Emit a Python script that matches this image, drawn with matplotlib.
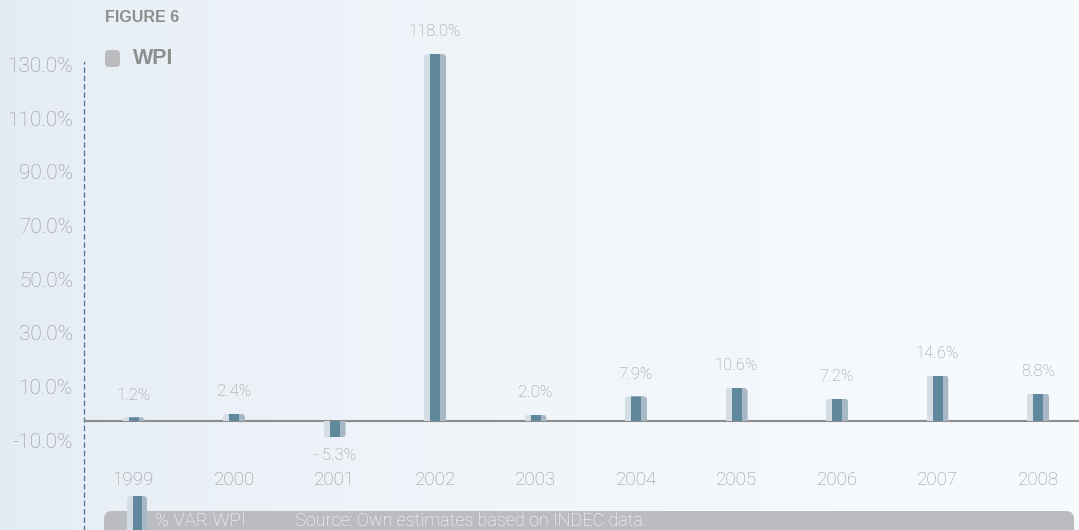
import matplotlib
matplotlib.use("Agg")
import matplotlib.pyplot as plt
import numpy as np
from matplotlib.patches import FancyBboxPatch, Rectangle

years = ["1999", "2000", "2001", "2002", "2003", "2004", "2005", "2006", "2007", "2008"]
wpi_var = [1.2, 2.4, -5.3, 118.0, 2.0, 7.9, 10.6, 7.2, 14.6, 8.8]
value_labels = ["1.2%", "2.4%", "- 5.3%", "118.0%", "2.0%", "7.9%", "10.6%", "7.2%", "14.6%", "8.8%"]
tick_values = [-10, 10, 30, 50, 70, 90, 110, 130]
tick_labels = ["-10.0%", "10.0%", "30.0%", "50.0%", "70.0%", "90.0%", "110.0%", "130.0%"]

W, H = 1079, 530
fam = ["Roboto", "DejaVu Sans"]
plt.rcParams['font.family'] = fam
TXT = "#969696"
WT = 'light'

fig = plt.figure(figsize=(W / 100, H / 100), dpi=100)

# background gradient
bg = fig.add_axes([0, 0, 1, 1], zorder=-10)
grad = np.linspace(0, 1, 256)[None, :]
c0 = np.array([0xe3, 0xeb, 0xf3]) / 255
c1 = np.array([0xf8, 0xfb, 0xfe]) / 255
img = c0[None, None, :] + (c1 - c0)[None, None, :] * (grad ** 0.6)[..., None]
bg.imshow(img, aspect='auto', extent=[0, 1, 0, 1])
bg.set_axis_off()

def px(x, y):
    return x / W, 1 - y / H

# main data axes
left_px, top_px = 84, 30
rect = [left_px / W, 0, 1 - left_px / W, (H - top_px) / H]
ax = fig.add_axes(rect, zorder=2)
ax.patch.set_alpha(0)
base_px, scale = 421, 3.11
ax.set_ylim(-(H - base_px) / scale, (base_px - top_px) / scale)
step, c0x = 100.5, 133.5
ax.set_xlim((left_px - c0x) / step, (W - c0x) / step)
for s in ax.spines.values():
    s.set_visible(False)
ax.set_xticks([])
ax.set_yticks([])

# tick axes (decorative scale)
ax2 = fig.add_axes(rect, zorder=1)
ax2.patch.set_alpha(0)
t0, tsc = 413.2, 2.682
ax2.set_ylim(-(H - t0) / tsc, (t0 - top_px) / tsc)
ax2.set_xlim(0, 1)
ax2.set_xticks([])
ax2.set_yticks(tick_values)
ax2.set_yticklabels(tick_labels, fontsize=15, color=TXT, fontweight=WT)
ax2.tick_params(axis='y', length=0, pad=8)
for k in ["top", "right", "bottom"]:
    ax2.spines[k].set_visible(False)
ax2.spines["left"].set_bounds(-(H - t0) / tsc, (t0 - 62) / tsc)
ax2.spines["left"].set_linestyle((0, (3, 3)))
ax2.spines["left"].set_color("#527f98")
ax2.spines["left"].set_linewidth(1.0)

# baseline
ax.axhline(0, color="#8c8c8c", lw=1.5, zorder=1)

x = np.arange(len(years))
bw = 22 / step
dw = 10 / step
light, dark, grey = "#d4dce4", "#5f889c", "#a8b8c4"
rx = 4 / step
ry = 4 / scale
for xi, v in zip(x, wpi_var):
    b1 = ax.bar(xi, v, width=bw, color=light, zorder=3)[0]
    b2 = ax.bar(xi + bw / 4, v, width=bw / 2, color=grey, zorder=3)[0]
    b3 = ax.bar(xi, v, width=dw, color=dark, zorder=4)[0]
    if v >= 0:
        y0, h = -3, v + 3
    else:
        y0, h = v, -v + 3
    clip = FancyBboxPatch((xi - bw / 2, y0), bw, h,
                          boxstyle=f"round,pad=0,rounding_size={rx}",
                          mutation_aspect=ry / rx, transform=ax.transData,
                          facecolor='none', edgecolor='none')
    for b in (b1, b2, b3):
        b.set_clip_path(clip)

for xi, v, lab in zip(x, wpi_var, value_labels):
    if v >= 0:
        ax.annotate(lab, (xi, v), xytext=(0, 16), textcoords='offset points',
                    ha='center', va='center', fontsize=12, color=TXT,
                    fontweight=WT, annotation_clip=False)
    else:
        ax.annotate(lab, (xi, v), xytext=(0, -13), textcoords='offset points',
                    ha='center', va='center', fontsize=12, color=TXT,
                    fontweight=WT, annotation_clip=False)

ytr = ax.get_xaxis_transform()
for xi, lab in zip(x, years):
    ax.text(xi, (H - 480) / (H - top_px), lab, transform=ytr, ha='center', va='center',
            fontsize=13.5, color=TXT, fontweight=WT)

# title and legend
fig.text(*px(105, 18), "FIGURE 6", fontsize=11.5, fontweight='bold', color="#8e8e8e",
         ha='left', va='center', family=["Liberation Sans", "DejaVu Sans"])
fx, fy = px(105, 67)
fig.patches.append(FancyBboxPatch((fx, fy), 15 / W, 17 / H,
                                  boxstyle=f"round,pad=0,rounding_size={4 / W}",
                                  mutation_aspect=W / H,
                                  transform=fig.transFigure, facecolor="#bcbcbe",
                                  edgecolor='none'))
fig.text(*px(133, 59), "WPI", fontsize=15.5, fontweight='bold', color="#8e8e8e",
         ha='left', va='center', family=["Liberation Sans", "DejaVu Sans"])

# bottom band
bx, by = px(104, 540)
fig.patches.append(FancyBboxPatch((bx, by), (1074 - 104) / W, 29 / H,
                                  boxstyle=f"round,pad=0,rounding_size={8 / W}",
                                  mutation_aspect=W / H,
                                  transform=fig.transFigure, facecolor="#bbbcbf",
                                  edgecolor='none', zorder=1))
# legend swatch
sx, sy = px(127, 540)
sw = 20 / W
sh = 44 / H
clip2 = FancyBboxPatch((sx, sy), sw, sh, boxstyle=f"round,pad=0,rounding_size={4 / W}",
                       mutation_aspect=W / H, transform=fig.transFigure,
                       facecolor='none', edgecolor='none')
for x0, ww, col in [(127, 20, light), (137, 10, grey), (133, 9, dark)]:
    r = Rectangle((x0 / W, sy), ww / W, sh, transform=fig.transFigure, facecolor=col,
                  edgecolor='none', zorder=2)
    r.set_clip_path(clip2)
    fig.patches.append(r)
fig.text(*px(155, 521), "% VAR WPI", fontsize=13.5, color="white", ha='left', va='center',
         fontweight=WT)
fig.text(*px(295, 521), "Source: Own estimates based on INDEC data.", fontsize=13,
         color="white", ha='left', va='center', fontweight=WT)

fig.savefig("out.png", dpi=100, facecolor=fig.get_facecolor())
